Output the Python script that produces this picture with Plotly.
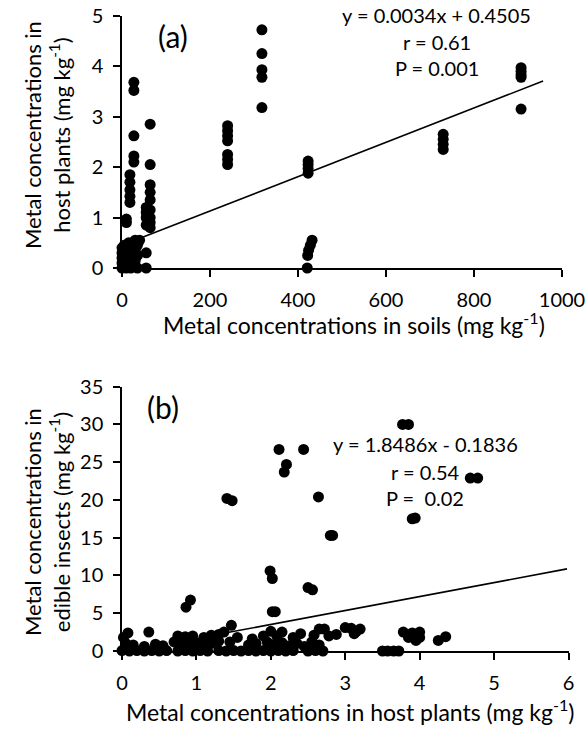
import plotly.graph_objects as go

# ---------------- Panel (a): soils vs host plants ----------------
soil_x = [0, 0, 0, 0, 0, 5, 5, 5, 10, 10, 10, 10, 10, 15, 15, 15, 20, 20, 20,
          25, 25, 25, 30, 30, 30, 35, 35, 35, 40,
          18, 18, 18, 18, 18,
          27, 27, 27, 27, 27,
          55, 55, 55, 55, 55, 55,
          64, 64, 64, 64, 64, 64, 64, 64, 64,
          240, 240, 240, 240, 240, 240, 240,
          318, 318, 318, 318, 318,
          423, 423, 423, 423, 432, 428, 424, 422, 421,
          730, 730, 730, 730,
          907, 907, 907, 907, 907]
plant_y = [0.0, 0.1, 0.2, 0.3, 0.4, 0.05, 0.25, 0.45, 0.0, 0.15, 0.35, 0.9, 0.97, 0.1, 0.3, 0.5, 0.0, 0.2, 0.4,
           0.05, 0.3, 0.5, 0.15, 0.35, 0.55, 0.0, 0.25, 0.45, 0.55,
           1.85, 1.7, 1.55, 1.42, 1.3,
           3.68, 3.52, 2.62, 2.22, 2.1,
           0.0, 0.3, 0.85, 1.0, 1.1, 1.2,
           2.85, 2.05, 1.65, 1.5, 1.35, 1.15, 1.0, 0.9, 0.8,
           2.82, 2.72, 2.62, 2.52, 2.25, 2.15, 2.05,
           4.72, 4.25, 3.93, 3.78, 3.18,
           2.12, 2.05, 1.97, 1.88, 0.55, 0.45, 0.35, 0.25, 0.0,
           2.65, 2.55, 2.45, 2.35,
           3.97, 3.9, 3.83, 3.78, 3.15]
fit_a_slope, fit_a_intercept = 0.0034, 0.4505
fit_a_xrange = [48, 957]
ticks_a_x = [0, 200, 400, 600, 800, 1000]
ticks_a_y = [0, 1, 2, 3, 4, 5]

# ---------------- Panel (b): host plants vs edible insects ----------------
plant_x = [
    # near-zero row
    0.0, 0.1, 0.2, 0.3, 0.4, 0.5, 0.6, 0.75, 0.85, 0.95, 1.05, 1.15, 1.3, 1.4, 1.5,
    1.6, 1.7, 1.8, 1.9, 2.0, 2.1, 2.2, 2.3, 2.5, 2.6, 2.7, 3.5, 3.57, 3.65, 3.72,
    # ~1 row
    0.05, 0.15, 0.3, 0.45, 0.55, 0.7, 0.8, 0.9, 1.0, 1.1, 1.2, 1.3, 1.45, 1.7,
    1.8, 1.95, 2.05, 2.15, 2.25, 2.35, 2.45, 2.55, 2.65,
    # ~2 row
    0.02, 0.08, 0.36, 0.75, 0.85, 0.95, 1.1, 1.2, 1.3, 1.37, 1.47, 1.55, 1.75, 1.9,
    2.0, 2.08, 2.15, 2.3, 2.4, 2.58, 2.65, 2.72, 2.78, 2.88, 3.0, 3.08, 3.12, 3.2,
    3.15, 3.78, 3.85, 3.9, 3.95, 4.0, 4.0, 4.25, 4.35,
    # high values
    0.92, 0.86, 2.02, 2.06, 2.5, 2.56, 1.99, 2.02, 2.83, 2.8, 1.41, 1.48, 2.64,
    2.18, 2.21, 2.11, 2.44, 3.94, 3.9, 4.68, 4.78, 3.77, 3.85]
insect_y = [
    0.05, 0.0, 0.05, 0.0, 0.05, 0.0, 0.05, 0.0, 0.05, 0.0, 0.05, 0.0, 0.05, 0.0, 0.05,
    0.0, 0.05, 0.0, 0.05, 0.0, 0.05, 0.0, 0.05, 0.0, 0.05, 0.0, 0.0, 0.0, 0.0, 0.0,
    1.0, 0.8, 0.6, 0.9, 0.7, 1.2, 1.0, 0.8, 1.1, 0.9, 1.0, 1.3, 1.2, 0.8,
    1.0, 1.2, 0.9, 1.1, 0.7, 1.0, 0.6, 1.2, 0.8,
    1.8, 2.4, 2.5, 2.0, 1.9, 2.0, 1.8, 2.1, 2.2, 2.5, 3.4, 1.8, 1.6, 2.0,
    2.6, 2.0, 2.5, 1.8, 2.3, 2.1, 2.9, 2.9, 2.0, 2.2, 3.1, 3.0, 2.3, 2.9,
    2.6, 2.5, 1.8, 2.4, 1.4, 2.5, 1.8, 1.4, 1.9,
    6.75, 5.8, 5.2, 5.2, 8.4, 8.1, 10.6, 9.6, 15.3, 15.3, 20.2, 19.9, 20.4,
    23.7, 24.7, 26.7, 26.7, 17.6, 17.5, 22.9, 22.9, 30.0, 30.0]
fit_b_slope, fit_b_intercept = 1.8486, -0.1836
fit_b_xrange = [1.42, 5.98]
ticks_b_x = [0, 1, 2, 3, 4, 5, 6]
ticks_b_y = [0, 5, 10, 15, 20, 25, 30, 35]

W, H = 586, 731
FONT = "Lato"


def px(x):
    return x / W


def py(y):
    return 1 - y / H


fig = go.Figure()
marker = dict(color="black", size=11, line=dict(width=0))

fig.add_trace(go.Scatter(x=soil_x, y=plant_y, mode="markers", marker=marker,
                         xaxis="x", yaxis="y", cliponaxis=False, showlegend=False))
fig.add_trace(go.Scatter(
    x=fit_a_xrange,
    y=[fit_a_slope * v + fit_a_intercept for v in fit_a_xrange],
    mode="lines", line=dict(color="black", width=1.6),
    xaxis="x", yaxis="y", showlegend=False))

fig.add_trace(go.Scatter(x=plant_x, y=insect_y, mode="markers", marker=marker,
                         xaxis="x2", yaxis="y2", cliponaxis=False, showlegend=False))
fig.add_trace(go.Scatter(
    x=fit_b_xrange,
    y=[fit_b_slope * v + fit_b_intercept for v in fit_b_xrange],
    mode="lines", line=dict(color="black", width=1.6),
    xaxis="x2", yaxis="y2", showlegend=False))

axis_common = dict(showline=True, linecolor="black", linewidth=1.5,
                   ticks="outside", ticklen=7, tickwidth=1.5, tickcolor="black",
                   showgrid=False, zeroline=False, automargin=False,
                   tickfont=dict(family=FONT, size=20, color="black"))

fig.update_layout(
    width=W, height=H,
    margin=dict(l=0, r=0, t=0, b=0, autoexpand=False),
    paper_bgcolor="white", plot_bgcolor="white",
    font=dict(family=FONT, color="black"),
    xaxis=dict(domain=[px(122), px(562)], range=[0, 1000], tickvals=ticks_a_x,
               anchor="y", ticklabelstandoff=6, **axis_common),
    yaxis=dict(domain=[py(268), py(15.7)], range=[0, 5], tickvals=ticks_a_y,
               anchor="x", ticklabelstandoff=6, **axis_common),
    xaxis2=dict(domain=[px(122), px(568.5)], range=[0, 6], tickvals=ticks_b_x,
                anchor="y2", ticklabelstandoff=6, **axis_common),
    yaxis2=dict(domain=[py(651), py(386.7)], range=[0, 35], tickvals=ticks_b_y,
                anchor="x2", ticklabelstandoff=6, **axis_common),
)

ann = []
tf = dict(family=FONT, size=20, color="black")
# Panel a labels
for txt, yy in [("y = 0.0034x + 0.4505", 15), ("r = 0.61", 41.7), ("P = 0.001", 68.3)]:
    ann.append(dict(text=txt, x=px(436.7), y=py(yy), xref="paper", yref="paper",
                    xanchor="center", yanchor="middle", showarrow=False, font=tf))
ann.append(dict(text="(a)", x=px(173), y=py(36), xref="paper", yref="paper",
                xanchor="center", yanchor="middle", showarrow=False,
                font=dict(family=FONT, size=30, color="black")))
# Panel b labels
for txt, yy in [("y = 1.8486x - 0.1836", 444), ("r = 0.54", 471.7), ("P =  0.02", 498.3)]:
    ann.append(dict(text=txt, x=px(425), y=py(yy), xref="paper", yref="paper",
                    xanchor="center", yanchor="middle", showarrow=False, font=tf))
ann.append(dict(text="(b)", x=px(163), y=py(406.7), xref="paper", yref="paper",
                xanchor="center", yanchor="middle", showarrow=False,
                font=dict(family=FONT, size=30, color="black")))
# Axis titles
xtitle_font = dict(family=FONT, size=23, color="black")
ytitle_font = dict(family=FONT, size=22, color="black")
ann.append(dict(text="Metal concentrations in soils (mg kg<sup>-1</sup>)",
                x=px(354), y=py(324), xref="paper", yref="paper",
                xanchor="center", yanchor="middle", showarrow=False, font=xtitle_font))
ann.append(dict(text="Metal concentrations in host plants (mg kg<sup>-1</sup>)",
                x=px(350), y=py(710), xref="paper", yref="paper",
                xanchor="center", yanchor="middle", showarrow=False, font=xtitle_font))
ann.append(dict(text="Metal concentrations in<br>host plants (mg kg<sup>-1</sup>)",
                x=px(47), y=py(135), xref="paper", yref="paper", textangle=-90,
                xanchor="center", yanchor="middle", showarrow=False, font=ytitle_font))
ann.append(dict(text="Metal concentrations in<br>edible insects (mg kg<sup>-1</sup>)",
                x=px(47), y=py(522), xref="paper", yref="paper", textangle=-90,
                xanchor="center", yanchor="middle", showarrow=False, font=ytitle_font))
fig.update_layout(annotations=ann)

fig.write_html("out.html", config={"displayModeBar": False},
               post_script="document.body.style.margin='0';document.body.style.padding='0';")
